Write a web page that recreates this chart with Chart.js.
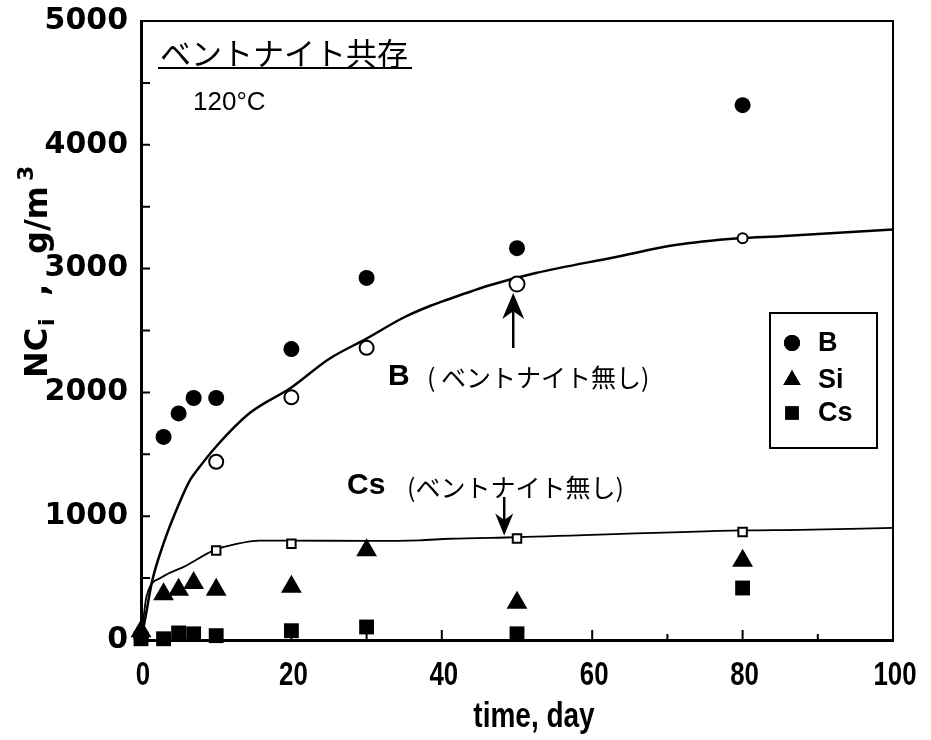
<!DOCTYPE html>
<html>
<head>
<meta charset="utf-8">
<script src="https://cdn.jsdelivr.net/npm/chart.js@4.4.0/dist/chart.umd.min.js"></script>
<style>
  html, body { margin: 0; padding: 0; background: #fff; }
  #wrap { width: 931px; height: 740px; }
</style>
</head>
<body>
<div id="wrap"><canvas id="leachChart"></canvas></div>
<script>
// sampling days (with bentonite)
const days = [0, 3, 5, 7, 10, 20, 30, 50, 80];
const bWith = [30, 1640, 1830, 1955, 1955, 2350, 2925, 3165, 4320];
const siWith = [70, 370, 405, 460, 405, 430, 725, 300, 640];
const csWith = [10, 10, 57, 50, 35, 75, 105, 50, 420];

// runs without bentonite
const bNoneDays = [10, 20, 30, 50, 80];
const bNone = [1440, 1960, 2360, 2875, 3245];
const csNoneDays = [10, 20, 50, 80];
const csNone = [722, 777, 820, 873];

// fitted curves (without bentonite)
const bCurveDays = [0, 0.5, 1.5, 3, 4.5, 6.5, 7.5, 10, 14.5, 20, 25, 30, 35, 38.5, 40, 46.5, 52.5, 63, 71, 79.5, 85, 100];
const bCurve = [0, 155, 480, 780, 1020, 1290, 1375, 1563, 1835, 2040, 2270, 2435, 2607, 2700, 2733, 2867, 2964, 3092, 3190, 3245, 3262, 3316];
const csCurveDays = [0, 0.75, 2.75, 6, 9.6, 12.7, 15.8, 20, 30, 37, 41, 50, 80, 87.6, 100];
const csCurve = [0, 356, 506, 600, 722, 776, 803, 803, 800, 805, 818, 830, 885, 890, 905];

const xTicks = [0, 20, 40, 60, 80, 100];
const yTicks = [0, 1000, 2000, 3000, 4000, 5000];

const toPoints = (xs, ys) => xs.map((x, i) => ({ x: x, y: ys[i] }));

const JP = "'Noto Sans CJK JP', 'Noto Sans CJK SC', sans-serif";
const SANS = "'Liberation Sans', Arial, sans-serif";
const HEAVY = "'DejaVu Sans', sans-serif";

// condensed bold text (x labels and x title)
function narrowText(ctx, txt, cx, cy, size, squeeze) {
    ctx.save();
    ctx.font = 'bold ' + size + 'px ' + SANS;
    ctx.textAlign = 'center';
    ctx.textBaseline = 'middle';
    ctx.translate(cx, cy);
    ctx.scale(squeeze, 1);
    ctx.fillText(txt, 0, 0);
    ctx.restore();
}

// tick marks, frame, legend box and labels
const decorations = {
    id: 'decorations',
    afterDraw(chart) {
        const { ctx, chartArea: area, scales: { x, y } } = chart;
        ctx.save();
        ctx.strokeStyle = '#000';
        ctx.fillStyle = '#000';

        // top and right frame
        ctx.lineWidth = 2;
        ctx.beginPath();
        ctx.moveTo(area.left, area.top);
        ctx.lineTo(area.right, area.top);
        ctx.lineTo(area.right, area.bottom);
        ctx.stroke();

        // inward ticks
        ctx.lineWidth = 2;
        ctx.beginPath();
        for (let v = 500; v < 5000; v += 500) {
            const py = y.getPixelForValue(v);
            ctx.moveTo(area.left, py);
            ctx.lineTo(area.left + 9, py);
        }
        for (let d = 10; d < 100; d += 10) {
            const px = x.getPixelForValue(d);
            ctx.moveTo(px, area.bottom);
            ctx.lineTo(px, area.bottom - (d % 20 === 0 ? 10 : 6));
        }
        ctx.stroke();

        // x tick labels
        xTicks.forEach(v => narrowText(ctx, String(v), x.getPixelForValue(v) + 2, 676, 34, 0.76));
        narrowText(ctx, 'time, day', 534, 717, 35, 0.8);

        // legend
        ctx.lineWidth = 2;
        ctx.strokeRect(770, 313, 107, 135);
        const rows = [
            { label: 'B', style: 'circle', r: 8, y: 343 },
            { label: 'Si', style: 'triangle', r: 10, y: 380 },
            { label: 'Cs', style: 'rect', r: 9.5, y: 413 }
        ];
        ctx.font = 'bold 27px ' + SANS;
        ctx.textBaseline = 'middle';
        ctx.textAlign = 'left';
        rows.forEach(row => {
            Chart.helpers.drawPoint(ctx, { pointStyle: row.style, radius: row.r, borderWidth: 0 }, 792, row.y);
            ctx.fill();
            ctx.fillText(row.label, 818, row.y + 1);
        });

        // heading
        ctx.font = '31px ' + JP;
        ctx.fillText('ベントナイト共存', 160, 53);
        ctx.beginPath();
        ctx.lineWidth = 2;
        ctx.moveTo(158, 68);
        ctx.lineTo(412, 68);
        ctx.stroke();

        ctx.font = '26px ' + SANS;
        ctx.fillText('120°C', 193, 103);

        // curve labels
        ctx.font = 'bold 30px ' + SANS;
        ctx.fillText('B', 388, 377);
        ctx.fillText('Cs', 347, 486);
        ctx.font = '25px ' + JP;
        ctx.fillText('( ベントナイト無し)', 427, 377);
        ctx.fillText('(ベントナイト無し)', 407, 487);

        // arrows
        const arrow = (px, fromY, tipY, headLen, halfW) => {
            const dir = Math.sign(tipY - fromY);
            ctx.beginPath();
            ctx.lineWidth = 2.5;
            ctx.moveTo(px, fromY);
            ctx.lineTo(px, tipY - dir * headLen * 0.6);
            ctx.stroke();
            ctx.beginPath();
            ctx.moveTo(px, tipY);
            ctx.lineTo(px - halfW, tipY - dir * headLen);
            ctx.lineTo(px, tipY - dir * headLen * 0.7);
            ctx.lineTo(px + halfW, tipY - dir * headLen);
            ctx.closePath();
            ctx.fill();
        };
        arrow(x.getPixelForValue(49.5), 348, y.getPixelForValue(2875) + 9, 26, 11);
        arrow(x.getPixelForValue(48.3), 497, y.getPixelForValue(820) - 3, 22, 9);

        // y title, rotated; offsets measured from the bottom end
        ctx.translate(47, 378);
        ctx.rotate(-Math.PI / 2);
        ctx.textAlign = 'left';
        ctx.textBaseline = 'alphabetic';
        const big = 'bold 32px ' + HEAVY;
        const small = 'bold 22px ' + HEAVY;
        ctx.font = big;
        ctx.fillText('NC', 0, 0);
        ctx.font = small;
        ctx.fillText('i', 52, 7);
        ctx.font = big;
        ctx.fillText(',', 82, 0);
        ctx.fillText('g/m', 124, 0);
        ctx.font = small;
        ctx.fillText('3', 197, -14);
        ctx.restore();
    }
};

new Chart(document.getElementById('leachChart'), {
    type: 'scatter',
    data: {
        datasets: [
            {
                label: 'B (no bentonite)',
                data: toPoints(bNoneDays, bNone),
                pointStyle: 'circle',
                pointRadius: [7, 7, 7, 7.5, 5],
                backgroundColor: '#fff',
                borderColor: '#000',
                borderWidth: 2,
                clip: false
            },
            {
                label: 'Cs (no bentonite)',
                data: toPoints(csNoneDays, csNone),
                pointStyle: 'rect',
                pointRadius: 6,
                backgroundColor: '#fff',
                borderColor: '#000',
                borderWidth: 2,
                clip: false
            },
            {
                label: 'B',
                data: toPoints(days, bWith),
                pointStyle: 'circle',
                pointRadius: 8,
                backgroundColor: '#000',
                borderWidth: 0,
                clip: false
            },
            {
                label: 'Si',
                data: toPoints(days, siWith),
                pointStyle: 'triangle',
                pointRadius: 12,
                backgroundColor: '#000',
                borderWidth: 0,
                clip: false
            },
            {
                label: 'Cs',
                data: toPoints(days, csWith),
                pointStyle: 'rect',
                pointRadius: 10.5,
                backgroundColor: '#000',
                borderWidth: 0,
                clip: false
            },
            {
                label: 'B fit',
                data: toPoints(bCurveDays, bCurve),
                showLine: true,
                borderColor: '#000',
                borderWidth: 2.5,
                pointRadius: 0,
                cubicInterpolationMode: 'monotone'
            },
            {
                label: 'Cs fit',
                data: toPoints(csCurveDays, csCurve),
                showLine: true,
                borderColor: '#000',
                borderWidth: 1.8,
                pointRadius: 0,
                cubicInterpolationMode: 'monotone'
            }
        ]
    },
    options: {
        responsive: true,
        maintainAspectRatio: false,
        animation: false,
        layout: { padding: { top: 21, right: 38, left: 0, bottom: 0 } },
        plugins: {
            legend: { display: false },
            tooltip: { enabled: false }
        },
        scales: {
            x: {
                type: 'linear',
                min: 0,
                max: 100,
                afterFit(scale) {
                    scale.height = 100;
                    scale.paddingLeft = 0;
                    scale.paddingRight = 0;
                },
                afterBuildTicks(scale) { scale.ticks = xTicks.map(v => ({ value: v })); },
                grid: { display: false, drawTicks: false },
                border: { display: true, color: '#000', width: 3 },
                ticks: { display: false }
            },
            y: {
                type: 'linear',
                min: 0,
                max: 5000,
                afterFit(scale) {
                    scale.width = 141;
                    scale.paddingTop = 0;
                    scale.paddingBottom = 0;
                },
                afterBuildTicks(scale) { scale.ticks = yTicks.map(v => ({ value: v })); },
                grid: { display: false, drawTicks: false },
                border: { display: true, color: '#000', width: 3 },
                ticks: {
                    color: '#000',
                    padding: 13,
                    callback: v => String(v),
                    font: { family: HEAVY, size: 30, weight: 'bold' }
                }
            }
        }
    },
    plugins: [decorations]
});
</script>
</body>
</html>
